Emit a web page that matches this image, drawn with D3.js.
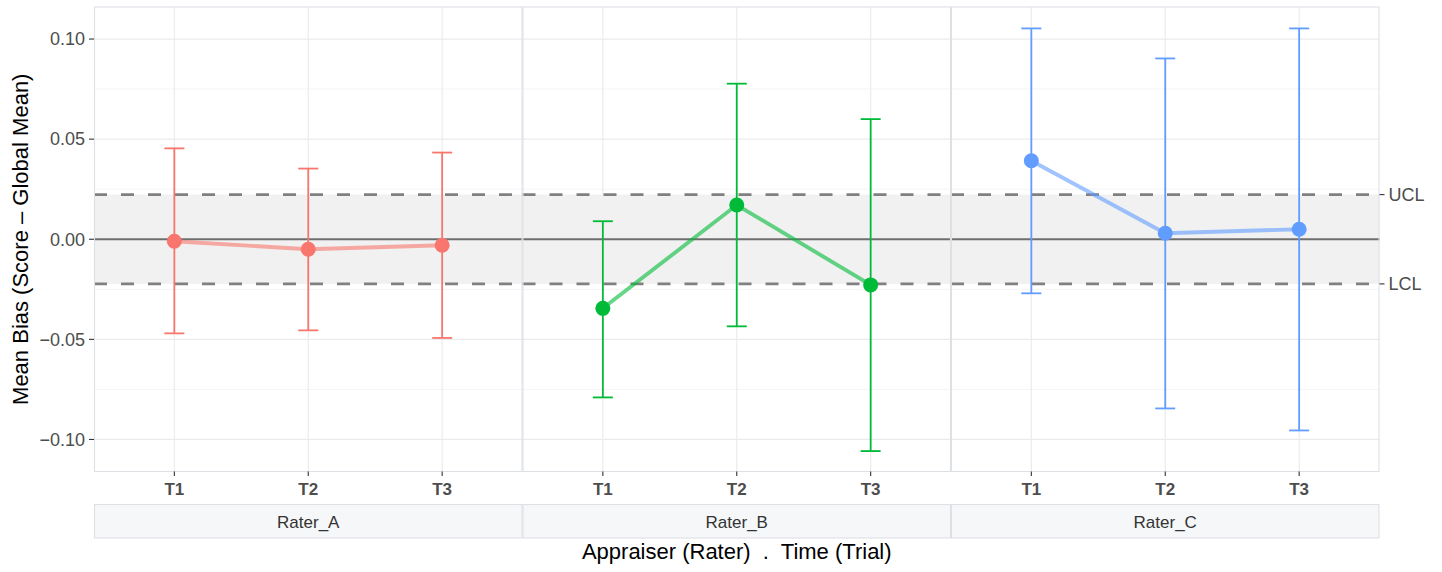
<!DOCTYPE html>
<html><head><meta charset="utf-8">
<script src="https://cdn.jsdelivr.net/npm/d3@7"></script>
<style>body{margin:0;background:#fff}svg{display:block;font-family:"Liberation Sans",Arial,sans-serif}text{white-space:pre}</style>
</head><body><svg id="c" width="1442" height="572"></svg>
<script>
const raters = ["Rater_A","Rater_B","Rater_C"];
const trials = ["T1","T2","T3"];
const colors = ["#F8766D","#00BA38","#619CFF"];
const meanA = [-0.001,-0.005,-0.003], loA = [-0.047,-0.0455,-0.0493], hiA = [0.0454,0.0353,0.0433];
const meanB = [-0.0345,0.0171,-0.0228], loB = [-0.0790,-0.0435,-0.1058], hiB = [0.0090,0.0777,0.0600];
const meanC = [0.0392,0.0030,0.0050], loC = [-0.0270,-0.0845,-0.0955], hiC = [0.1053,0.0903,0.1053];
const yTicks = [0.10,0.05,0.00,-0.05,-0.10];
const yMinor = [0.075,0.025,-0.025,-0.075];
const UCL = 0.0223, LCL = -0.0223;
const series = [[meanA,loA,hiA],[meanB,loB,hiB],[meanC,loC,hiC]];

const svg = d3.select("#c");
const L=94, R=1379.5, T=7, B=471.5;
const y = d3.scaleLinear().domain([-0.116,0.116]).range([B,T]);
const fx = d3.scaleBand().domain(raters).range([L,R]);
const x = d3.scalePoint().domain(trials).range([0, fx.bandwidth()]).padding(0.6);
const fmt = v => (v<0?"\u2212":"") + Math.abs(v).toFixed(2);

raters.forEach((r,i)=>{
  const g = svg.append("g").attr("transform",`translate(${fx(r)},0)`);
  const w = fx.bandwidth();
  g.selectAll(".mn").data(yMinor).join("line").attr("x1",0).attr("x2",w)
    .attr("y1",d=>y(d)).attr("y2",d=>y(d)).attr("stroke","#ededed").attr("stroke-width",0.6);
  g.selectAll(".mj").data(yTicks).join("line").attr("x1",0).attr("x2",w)
    .attr("y1",d=>y(d)).attr("y2",d=>y(d)).attr("stroke","#ebebeb").attr("stroke-width",1.2);
  g.selectAll(".vx").data(trials).join("line").attr("x1",d=>x(d)).attr("x2",d=>x(d))
    .attr("y1",T).attr("y2",B).attr("stroke","#ebebeb").attr("stroke-width",1.2);
  g.append("rect").attr("x",0).attr("width",w).attr("y",y(UCL)).attr("height",y(LCL)-y(UCL)).attr("fill","#f1f1f1");
  [UCL,LCL].forEach(v=>g.append("line").attr("x1",0).attr("x2",w).attr("y1",y(v)).attr("y2",y(v))
    .attr("stroke","#808080").attr("stroke-width",2.7).attr("stroke-dasharray","13,14"));
  g.append("line").attr("x1",0).attr("x2",w).attr("y1",y(0)).attr("y2",y(0)).attr("stroke","#6e6e6e").attr("stroke-width",1.8);
  const [m,lo,hi] = series[i];
  const c = colors[i];
  trials.forEach((t,j)=>{
    const cx = x(t);
    g.append("line").attr("x1",cx).attr("x2",cx).attr("y1",y(lo[j])).attr("y2",y(hi[j])).attr("stroke",c).attr("stroke-width",1.8);
    [lo[j],hi[j]].forEach(v=>g.append("line").attr("x1",cx-10).attr("x2",cx+10).attr("y1",y(v)).attr("y2",y(v)).attr("stroke",c).attr("stroke-width",1.8));
  });
  g.append("path").datum(trials.map((t,j)=>[x(t),y(m[j])])).attr("d",d3.line())
    .attr("fill","none").attr("stroke",c).attr("stroke-opacity",0.6).attr("stroke-width",3.9);
  g.selectAll(".pt").data(trials).join("circle").attr("cx",d=>x(d)).attr("cy",(d,j)=>y(m[j])).attr("r",7.5).attr("fill",c);
  g.append("rect").attr("x",0.5).attr("y",T).attr("width",w-1).attr("height",B-T).attr("fill","none").attr("stroke","#dde0e5").attr("stroke-width",1.1);
  g.selectAll(".xt").data(trials).join("line").attr("x1",d=>x(d)).attr("x2",d=>x(d)).attr("y1",B).attr("y2",B+4.5).attr("stroke","#333").attr("stroke-width",1.1);
  g.selectAll(".xl").data(trials).join("text").attr("x",d=>x(d)).attr("y",495).attr("text-anchor","middle")
    .attr("font-size",17).attr("font-weight","bold").attr("fill","#4d4d4d").text(d=>d);
  g.append("rect").attr("x",0.5).attr("y",504.5).attr("width",w-1).attr("height",33.5).attr("fill","#f6f7f9").attr("stroke","#dde0e5").attr("stroke-width",1.1);
  g.append("text").attr("x",w/2).attr("y",527.5).attr("text-anchor","middle").attr("font-size",17).attr("fill","#333").text(r);
});

const ya = svg.append("g");
ya.selectAll("line").data(yTicks).join("line").attr("x1",L-5).attr("x2",L).attr("y1",d=>y(d)).attr("y2",d=>y(d)).attr("stroke","#333").attr("stroke-width",1.1);
ya.selectAll("text").data(yTicks).join("text").attr("x",L-9).attr("y",d=>y(d)+6.3).attr("text-anchor","end")
  .attr("font-size",18).attr("fill","#4d4d4d").text(fmt);
const ra = svg.append("g");
const rLabs = [["UCL",UCL],["LCL",LCL]];
ra.selectAll("line").data(rLabs).join("line").attr("x1",R).attr("x2",R+5).attr("y1",d=>y(d[1])).attr("y2",d=>y(d[1])).attr("stroke","#333").attr("stroke-width",1.1);
ra.selectAll("text").data(rLabs).join("text").attr("x",R+9).attr("y",d=>y(d[1])+6.3).attr("font-size",18).attr("fill","#4d4d4d").text(d=>d[0]);

svg.append("text").attr("transform",`translate(28,${(T+B)/2}) rotate(-90)`).attr("text-anchor","middle")
  .attr("font-size",22).attr("fill","#000").text("Mean Bias (Score \u2013 Global Mean)");
svg.append("text").attr("x",(L+R)/2).attr("y",559).attr("text-anchor","middle")
  .attr("font-size",22).attr("fill","#000").text("Appraiser (Rater)  .  Time (Trial)");
</script></body></html>
